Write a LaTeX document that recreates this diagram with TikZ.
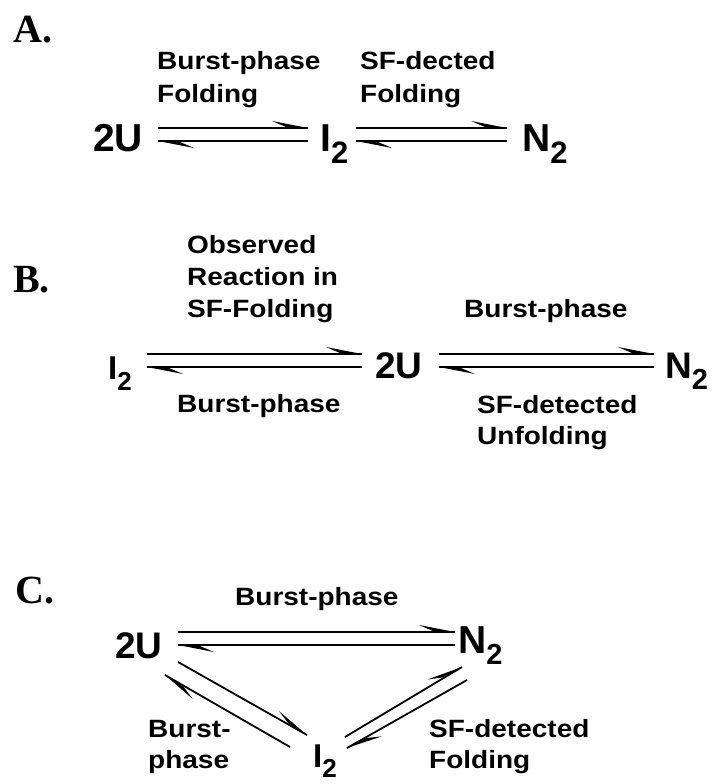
\documentclass[tikz,border=0pt]{standalone}
\usepackage{fontspec}
\setmainfont{Liberation Sans}
\newfontfamily\labf{Liberation Sans}[FakeStretch=1.12]
\newfontfamily\secf{Liberation Serif}
\usetikzlibrary{calc}
% subscript: size, shift, text
\newcommand{\subsc}[3]{\raisebox{-#2pt}{\fontsize{#1}{#1}\selectfont #3}}
\tikzset{
  sec/.style={inner sep=0pt, anchor=base west, font=\secf\bfseries\fontsize{40}{40}\selectfont},
  lab/.style={inner sep=0pt, anchor=base west, font=\labf\bfseries\fontsize{25}{30}\selectfont},
  spc/.style={inner sep=0pt, anchor=base west, font=\bfseries\fontsize{#1}{#1}\selectfont},
  spc/.default=39,
  ln/.style={line width=1.8pt},
  barb/.style={fill=black},
}
% one harpoon connector from #1 to #2, barb on the left of travel
\newcommand{\harp}[2]{%
  \draw[ln] (#1) -- (#2);
  \fill[barb] ($(#2)!36pt!(#1)!7pt!90:(#2)$) -- (#2) -- ($(#2)!22pt!(#1)!1pt!90:(#2)$) -- cycle;}
\begin{document}
\begin{tikzpicture}[x=1pt,y=-1pt]
\useasboundingbox (0,0) rectangle (712,784);
% ---------- A ----------
\node[sec] (secA) at (13,43) {A.};
\node[lab] (aL1) at (157,70) {Burst-phase};
\node[lab] (aL2) at (157,102) {Folding};
\node[lab] (aR1) at (360,70) {SF-dected};
\node[lab] (aR2) at (360,102) {Folding};
\node[spc] (uA) at (93,151) {2U};
\node[spc] (iA) at (320,151) {I\subsc{31}{12}{2}};
\node[spc] (nA) at (522,151) {N\subsc{31}{12}{2}};
\coordinate (a1a) at (158,128); \coordinate (a1b) at (308,128);
\coordinate (a1c) at (308,141); \coordinate (a1d) at (158,141);
\coordinate (a2a) at (356,128); \coordinate (a2b) at (507,128);
\coordinate (a2c) at (507,141); \coordinate (a2d) at (356,141);
\harp{a1a}{a1b}
\harp{a1c}{a1d}
\harp{a2a}{a2b}
\harp{a2c}{a2d}
% ---------- B ----------
\node[sec] (secB) at (13,292) {B.};
\node[lab] (bL1) at (187,253) {Observed};
\node[lab] (bL2) at (187,285) {Reaction in};
\node[lab] (bL3) at (187,317) {SF-Folding};
\node[lab] (bL4) at (177,412) {Burst-phase};
\node[lab] (bR1) at (464,317) {Burst-phase};
\node[lab] (bR2) at (477,413) {SF-detected};
\node[lab] (bR3) at (477,444) {Unfolding};
\node[spc=33] (iB) at (108,379) {I\subsc{26}{11}{2}};
\node[spc=37] (uB) at (375,378) {2U};
\node[spc=37] (nB) at (665,378) {N\subsc{29}{11}{2}};
\coordinate (b1a) at (147,354); \coordinate (b1b) at (362,354);
\coordinate (b1c) at (362,367); \coordinate (b1d) at (147,367);
\coordinate (b2a) at (439,354); \coordinate (b2b) at (654,354);
\coordinate (b2c) at (654,367); \coordinate (b2d) at (439,367);
\harp{b1a}{b1b}
\harp{b1c}{b1d}
\harp{b2a}{b2b}
\harp{b2c}{b2d}
% ---------- C ----------
\node[sec] (secC) at (15,603) {C.};
\node[lab] (cT) at (235,605) {Burst-phase};
\node[lab] (cL1) at (148,737) {Burst-};
\node[lab] (cL2) at (148,768) {phase};
\node[lab] (cR1) at (429,737) {SF-detected};
\node[lab] (cR2) at (429,768) {Folding};
\node[spc=37] (uC) at (115,658) {2U};
\node[spc] (nC) at (458,653) {N\subsc{29}{11}{2}};
\node[spc=33] (iC) at (313,767) {I\subsc{26}{10}{2}};
\coordinate (c1a) at (178,632); \coordinate (c1b) at (455,632);
\coordinate (c1c) at (455,645); \coordinate (c1d) at (178,645);
\coordinate (c2a) at (178,662); \coordinate (c2b) at (307,735);
\coordinate (c2c) at (290,747); \coordinate (c2d) at (165,675);
\coordinate (c3a) at (345,737); \coordinate (c3b) at (462,667);
\coordinate (c3c) at (467,680); \coordinate (c3d) at (347,748);
\harp{c1a}{c1b}
\harp{c1c}{c1d}
\harp{c2a}{c2b}
\harp{c2c}{c2d}
\harp{c3a}{c3b}
\harp{c3c}{c3d}
\end{tikzpicture}
\end{document}
